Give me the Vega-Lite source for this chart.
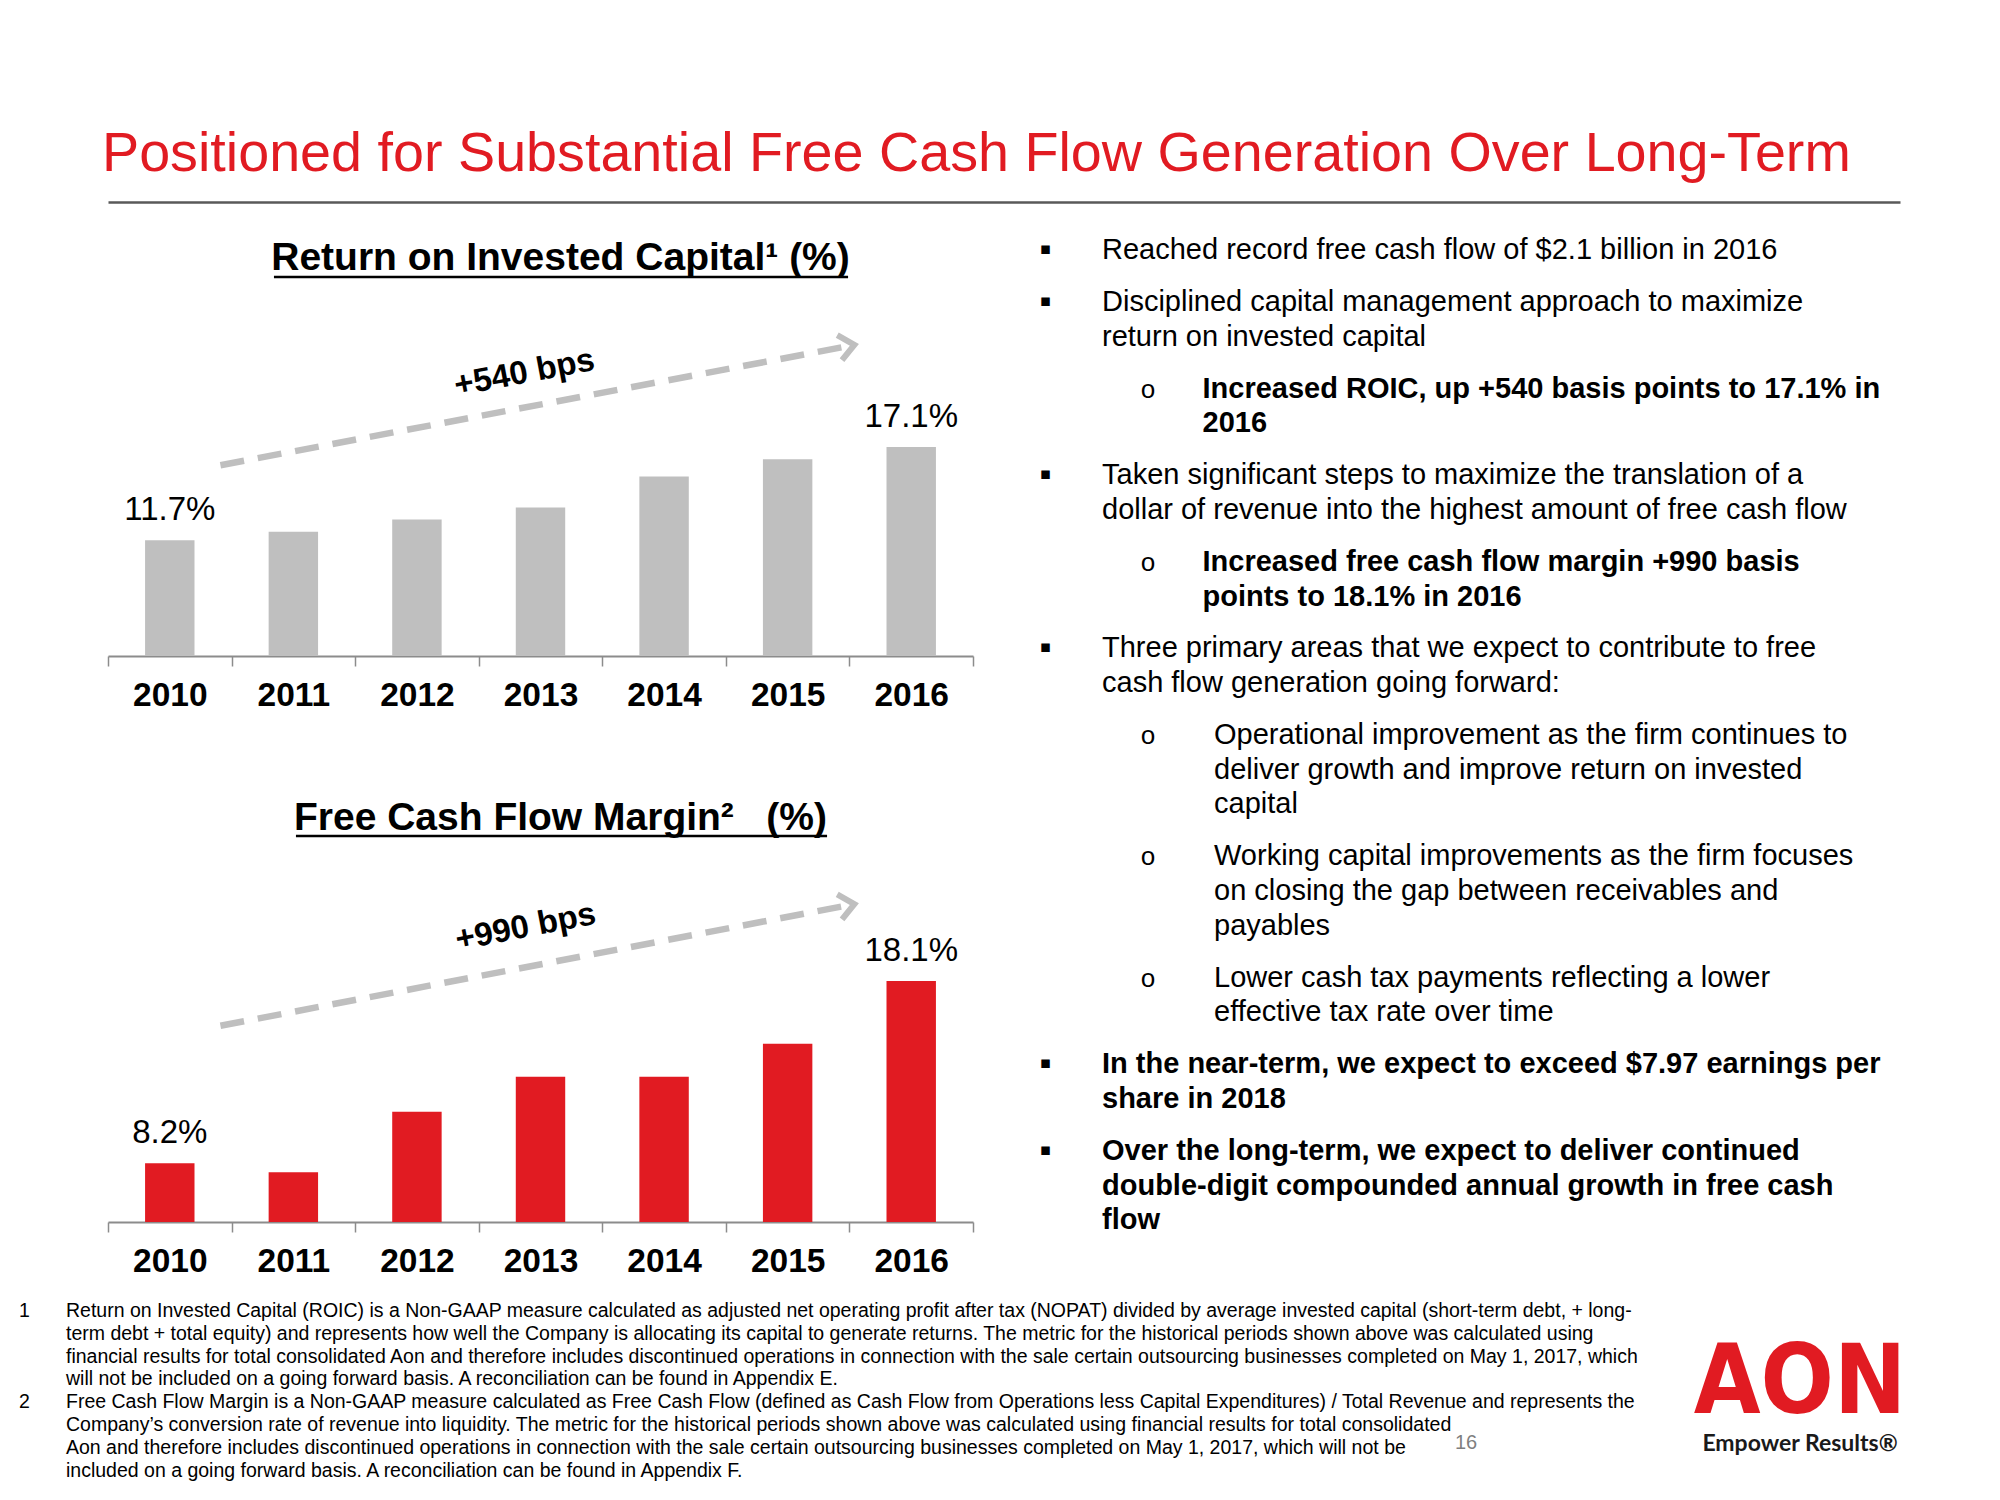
{
  "$schema": "https://vega.github.io/schema/vega-lite/v6.json",
  "background": "white",
  "padding": {"left": 19, "top": 126, "right": 0, "bottom": 0},
  "bounds": "flush",
  "spacing": 0,
  "config": {
    "font": "Liberation Sans",
    "view": {"stroke": null},
    "text": {"font": "Liberation Sans, DejaVu Sans"},
    "title": {"font": "Liberation Sans"},
    "axis": {"labelFont": "Liberation Sans"}
  },
  "datasets": {
    "metrics": [
      {"year": "2010", "roic": 11.7, "fcf": 8.2},
      {"year": "2011", "roic": 12.2, "fcf": 7.7},
      {"year": "2012", "roic": 12.9, "fcf": 11.0},
      {"year": "2013", "roic": 13.6, "fcf": 12.9},
      {"year": "2014", "roic": 15.4, "fcf": 12.9},
      {"year": "2015", "roic": 16.4, "fcf": 14.7},
      {"year": "2016", "roic": 17.1, "fcf": 18.1}
    ],
    "roicArrow": [
      {"pos": 2010.41, "val": 16.05, "pt": "start"},
      {"pos": 2015.54, "val": 23.02, "pt": "end"}
    ],
    "roicNote": [{"pos": 2012.87, "val": 21.4, "note": "+540 bps"}],
    "fcfArrow": [
      {"pos": 2010.41, "val": 15.67, "pt": "start"},
      {"pos": 2015.54, "val": 22.29, "pt": "end"}
    ],
    "fcfNote": [{"pos": 2012.88, "val": 21.04, "note": "+990 bps"}],
    "bullets": [
      {"para": 0, "ln": 0, "level": 1, "hl": false, "text": "Reached record free cash flow of $2.1 billion in 2016"},
      {"para": 1, "ln": 1, "level": 1, "hl": false, "text": "Disciplined capital management approach to maximize"},
      {"para": 1, "ln": 2, "level": 1, "hl": false, "text": "return on invested capital"},
      {"para": 2, "ln": 3, "level": 2, "hl": true, "text": "Increased ROIC, up +540 basis points to 17.1% in"},
      {"para": 2, "ln": 4, "level": 2, "hl": true, "text": "2016"},
      {"para": 3, "ln": 5, "level": 1, "hl": false, "text": "Taken significant steps to maximize the translation of a"},
      {"para": 3, "ln": 6, "level": 1, "hl": false, "text": "dollar of revenue into the highest amount of free cash flow"},
      {"para": 4, "ln": 7, "level": 2, "hl": true, "text": "Increased free cash flow margin +990 basis"},
      {"para": 4, "ln": 8, "level": 2, "hl": true, "text": "points to 18.1% in 2016"},
      {"para": 5, "ln": 9, "level": 1, "hl": false, "text": "Three primary areas that we expect to contribute to free"},
      {"para": 5, "ln": 10, "level": 1, "hl": false, "text": "cash flow generation going forward:"},
      {"para": 6, "ln": 11, "level": 2, "hl": false, "text": "Operational improvement as the firm continues to"},
      {"para": 6, "ln": 12, "level": 2, "hl": false, "text": "deliver growth and improve return on invested"},
      {"para": 6, "ln": 13, "level": 2, "hl": false, "text": "capital"},
      {"para": 7, "ln": 14, "level": 2, "hl": false, "text": "Working capital improvements as the firm focuses"},
      {"para": 7, "ln": 15, "level": 2, "hl": false, "text": "on closing the gap between receivables and"},
      {"para": 7, "ln": 16, "level": 2, "hl": false, "text": "payables"},
      {"para": 8, "ln": 17, "level": 2, "hl": false, "text": "Lower cash tax payments reflecting a lower"},
      {"para": 8, "ln": 18, "level": 2, "hl": false, "text": "effective tax rate over time"},
      {"para": 9, "ln": 19, "level": 1, "hl": true, "text": "In the near-term, we expect to exceed $7.97 earnings per"},
      {"para": 9, "ln": 20, "level": 1, "hl": true, "text": "share in 2018"},
      {"para": 10, "ln": 21, "level": 1, "hl": true, "text": "Over the long-term, we expect to deliver continued"},
      {"para": 10, "ln": 22, "level": 1, "hl": true, "text": "double-digit compounded annual growth in free cash"},
      {"para": 10, "ln": 23, "level": 1, "hl": true, "text": "flow"}
    ],
    "footnotes": [
      {"note": 1, "ln": 0, "text": "Return on Invested Capital (ROIC) is a Non-GAAP measure calculated as adjusted net operating profit after tax (NOPAT) divided by average invested capital (short-term debt, + long-"},
      {"note": 1, "ln": 1, "text": "term debt + total equity) and represents how well the Company is allocating its capital to generate returns. The metric for the historical periods shown above was calculated using"},
      {"note": 1, "ln": 2, "text": "financial results for total consolidated Aon and therefore includes discontinued operations in connection with the sale certain outsourcing businesses completed on May 1, 2017, which"},
      {"note": 1, "ln": 3, "text": "will not be included on a going forward basis.  A reconciliation can be found in Appendix E."},
      {"note": 2, "ln": 4, "text": "Free Cash Flow Margin is a Non-GAAP measure calculated as Free Cash Flow (defined as Cash Flow from Operations less Capital Expenditures) / Total Revenue and represents the"},
      {"note": 2, "ln": 5, "text": "Company’s conversion rate of revenue into liquidity. The metric for the historical periods shown above was calculated using financial results for total consolidated"},
      {"note": 2, "ln": 6, "text": "Aon and therefore includes discontinued operations in connection with the sale certain outsourcing businesses completed on May 1, 2017, which will not be"},
      {"note": 2, "ln": 7, "text": "included on a going forward basis. A reconciliation can be found in Appendix F."}
    ]
  },
  "vconcat": [
    {
      "title": {"text": "Positioned for Substantial Free Cash Flow Generation Over Long-Term", "anchor": "start", "frame": "group", "fontSize": 55.7, "fontWeight": "normal", "color": "#E11B22", "baseline": "alphabetic", "offset": -25, "dx": -6},
      "width": 1792,
      "height": 126,
      "layer": [
        {
          "data": {"values": [{"v": 0}, {"v": 1}]},
          "mark": {"type": "point", "opacity": 0},
          "encoding": {
            "x": {"field": "v", "type": "quantitative", "scale": {"domain": [0, 1], "nice": false},
                  "axis": {"orient": "top", "domain": true, "domainColor": "#595959", "domainWidth": 2.5, "ticks": false, "labels": false, "grid": false, "title": null}}
          }
        },
        {
          "data": {"name": "bullets"},
          "transform": [{"calculate": "datum.ln + 0.5 * datum.para", "as": "pos"}],
          "layer": [
            {
              "transform": [
                {"joinaggregate": [{"op": "min", "field": "ln", "as": "firstLn"}], "groupby": ["para"]},
                {"filter": "datum.ln == datum.firstLn && datum.level == 1"}
              ],
              "mark": {"type": "text", "fontSize": 17, "align": "center", "baseline": "alphabetic", "color": "#000000", "font": "DejaVu Sans", "dy": -5, "text": "▪"},
              "encoding": {
                "x": {"field": "level", "type": "quantitative", "scale": {"domain": [1, 2], "range": [937.5, 1040], "nice": false, "zero": false}, "axis": null},
                "y": {"field": "pos", "type": "quantitative", "scale": {"domain": [0, 28], "range": [57, 1027.2], "nice": false, "zero": false}, "axis": null}
              }
            },
            {
              "transform": [
                {"joinaggregate": [{"op": "min", "field": "ln", "as": "firstLn"}], "groupby": ["para"]},
                {"filter": "datum.ln == datum.firstLn && datum.level == 2"}
              ],
              "mark": {"type": "text", "fontSize": 26, "align": "center", "baseline": "alphabetic", "color": "#000000", "font": "Liberation Mono", "text": "o"},
              "encoding": {
                "x": {"field": "level", "type": "quantitative", "scale": {"domain": [1, 2], "range": [937.5, 1040], "nice": false, "zero": false}, "axis": null},
                "y": {"field": "pos", "type": "quantitative", "axis": null}
              }
            },
            {
              "transform": [{"filter": "!datum.hl"}],
              "mark": {"type": "text", "fontSize": 29, "align": "left", "baseline": "alphabetic", "color": "#000000"},
              "encoding": {
                "x": {"field": "level", "type": "quantitative", "scale": {"domain": [1, 2], "range": [994, 1106], "nice": false, "zero": false}, "axis": null},
                "y": {"field": "pos", "type": "quantitative", "axis": null},
                "text": {"field": "text"}
              }
            },
            {
              "transform": [{"filter": "datum.hl"}],
              "mark": {"type": "text", "fontSize": 29, "fontWeight": "bold", "align": "left", "baseline": "alphabetic", "color": "#000000"},
              "encoding": {
                "x": {"field": "level", "type": "quantitative", "scale": {"domain": [1, 2], "range": [994, 1094.5], "nice": false, "zero": false}, "axis": null},
                "y": {"field": "pos", "type": "quantitative", "axis": null},
                "text": {"field": "text"}
              }
            }
          ],
          "resolve": {"scale": {"x": "independent"}}
        }
      ],
      "resolve": {"scale": {"x": "independent", "y": "independent"}}
    },
    {
      "width": 865,
      "height": 328,
      "title": {"text": "Return on Invested Capital¹ (%)", "fontSize": 39, "fontWeight": "bold", "color": "#000000", "anchor": "middle", "frame": "group", "dx": 20, "baseline": "alphabetic", "offset": -33},
      "layer": [
        {
          "data": {"name": "metrics"},
          "layer": [
            {
              "mark": {"type": "bar", "width": {"band": 0.4}, "color": "#BFBFBF"},
              "encoding": {
                "x": {"field": "year", "type": "ordinal", "scale": {"paddingInner": 0, "paddingOuter": 0},
                      "axis": {"title": null, "labelFontSize": 33.5, "labelFontWeight": "bold", "labelColor": "#000000", "labelAngle": 0, "labelPadding": 13, "tickSize": 10, "tickColor": "#8C8C8C", "tickWidth": 1.5, "domainColor": "#8C8C8C", "domainWidth": 2, "tickBand": "extent", "grid": false}},
                "y": {"field": "roic", "type": "quantitative", "scale": {"domain": [5, 24], "zero": false, "nice": false, "clamp": true}, "axis": null}
              }
            },
            {
              "transform": [
                {"filter": "datum.year == '2010' || datum.year == '2016'"},
                {"calculate": "format(datum.roic, '.1f') + '%'", "as": "lbl"}
              ],
              "mark": {"type": "text", "fontSize": 33, "dy": -20, "baseline": "alphabetic", "color": "#000000"},
              "encoding": {
                "x": {"field": "year", "type": "ordinal"},
                "y": {"field": "roic", "type": "quantitative", "axis": null},
                "text": {"field": "lbl"}
              }
            }
          ]
        },
        {
          "layer": [
            {
              "data": {"name": "roicArrow"},
              "mark": {"type": "line", "color": "#BFBFBF", "strokeWidth": 6.5, "strokeDash": [24, 14], "strokeCap": "butt"},
              "encoding": {
                "x": {"field": "pos", "type": "quantitative", "scale": {"domain": [2009.5, 2016.5], "nice": false, "zero": false}, "axis": null},
                "y": {"field": "val", "type": "quantitative", "scale": {"domain": [5, 24], "zero": false, "nice": false}, "axis": null}
              }
            },
            {
              "data": {"name": "roicArrow"},
              "transform": [{"filter": "datum.pt == 'end'"}],
              "mark": {"type": "point", "shape": "M-1,-0.85L0,0L-1,0.85", "filled": false, "stroke": "#BFBFBF", "strokeWidth": 6, "size": 900, "angle": -10.7, "opacity": 1},
              "encoding": {
                "x": {"field": "pos", "type": "quantitative", "axis": null},
                "y": {"field": "val", "type": "quantitative", "axis": null}
              }
            },
            {
              "data": {"name": "roicNote"},
              "mark": {"type": "text", "fontSize": 33, "fontWeight": "bold", "angle": -10.7, "align": "center", "baseline": "middle", "color": "#000000"},
              "encoding": {
                "x": {"field": "pos", "type": "quantitative", "axis": null},
                "y": {"field": "val", "type": "quantitative", "axis": null},
                "text": {"field": "note"}
              }
            },
            {
              "data": {"values": [{"underline": "title"}]},
              "mark": {"type": "rule", "color": "#000000", "strokeWidth": 2.5},
              "encoding": {
                "x": {"datum": 2010.843, "type": "quantitative", "axis": null},
                "x2": {"datum": 2015.489},
                "y": {"datum": 26.955, "type": "quantitative", "axis": null}
              }
            }
          ]
        }
      ],
      "resolve": {"scale": {"x": "independent", "y": "independent"}}
    },
    {
      "width": 1,
      "height": 235,
      "data": {"values": [{"gap": 1}]},
      "mark": {"type": "point", "opacity": 0},
      "encoding": {}
    },
    {
      "width": 865,
      "height": 331,
      "title": {"text": "Free Cash Flow Margin²\u00a0\u00a0\u00a0(%)", "fontSize": 39, "fontWeight": "bold", "color": "#000000", "anchor": "middle", "frame": "group", "dx": 20, "baseline": "alphabetic", "offset": -34},
      "layer": [
        {
          "data": {"name": "metrics"},
          "layer": [
            {
              "mark": {"type": "bar", "width": {"band": 0.4}, "color": "#E11B22"},
              "encoding": {
                "x": {"field": "year", "type": "ordinal", "scale": {"paddingInner": 0, "paddingOuter": 0},
                      "axis": {"title": null, "labelFontSize": 33.5, "labelFontWeight": "bold", "labelColor": "#000000", "labelAngle": 0, "labelPadding": 13, "tickSize": 10, "tickColor": "#8C8C8C", "tickWidth": 1.5, "domainColor": "#8C8C8C", "domainWidth": 2, "tickBand": "extent", "grid": false}},
                "y": {"field": "fcf", "type": "quantitative", "scale": {"domain": [5, 23], "zero": false, "nice": false, "clamp": true}, "axis": null}
              }
            },
            {
              "transform": [
                {"filter": "datum.year == '2010' || datum.year == '2016'"},
                {"calculate": "format(datum.fcf, '.1f') + '%'", "as": "lbl"}
              ],
              "mark": {"type": "text", "fontSize": 33, "dy": -20, "baseline": "alphabetic", "color": "#000000"},
              "encoding": {
                "x": {"field": "year", "type": "ordinal"},
                "y": {"field": "fcf", "type": "quantitative", "axis": null},
                "text": {"field": "lbl"}
              }
            }
          ]
        },
        {
          "layer": [
            {
              "data": {"name": "fcfArrow"},
              "mark": {"type": "line", "color": "#BFBFBF", "strokeWidth": 6.5, "strokeDash": [24, 14], "strokeCap": "butt"},
              "encoding": {
                "x": {"field": "pos", "type": "quantitative", "scale": {"domain": [2009.5, 2016.5], "nice": false, "zero": false}, "axis": null},
                "y": {"field": "val", "type": "quantitative", "scale": {"domain": [5, 23], "zero": false, "nice": false}, "axis": null}
              }
            },
            {
              "data": {"name": "fcfArrow"},
              "transform": [{"filter": "datum.pt == 'end'"}],
              "mark": {"type": "point", "shape": "M-1,-0.85L0,0L-1,0.85", "filled": false, "stroke": "#BFBFBF", "strokeWidth": 6, "size": 900, "angle": -10.9, "opacity": 1},
              "encoding": {
                "x": {"field": "pos", "type": "quantitative", "axis": null},
                "y": {"field": "val", "type": "quantitative", "axis": null}
              }
            },
            {
              "data": {"name": "fcfNote"},
              "mark": {"type": "text", "fontSize": 33, "fontWeight": "bold", "angle": -10.9, "align": "center", "baseline": "middle", "color": "#000000"},
              "encoding": {
                "x": {"field": "pos", "type": "quantitative", "axis": null},
                "y": {"field": "val", "type": "quantitative", "axis": null},
                "text": {"field": "note"}
              }
            },
            {
              "data": {"values": [{"underline": "title"}]},
              "mark": {"type": "rule", "color": "#000000", "strokeWidth": 2.5},
              "encoding": {
                "x": {"datum": 2011.021, "type": "quantitative", "axis": null},
                "x2": {"datum": 2015.319},
                "y": {"datum": 25.99, "type": "quantitative", "axis": null}
              }
            }
          ]
        }
      ],
      "resolve": {"scale": {"x": "independent", "y": "independent"}}
    },
    {
      "width": 1540,
      "height": 260,
      "layer": [
        {
          "data": {"name": "footnotes"},
          "layer": [
            {
              "transform": [
                {"joinaggregate": [{"op": "min", "field": "ln", "as": "firstLn"}], "groupby": ["note"]},
                {"filter": "datum.ln == datum.firstLn"}
              ],
              "mark": {"type": "text", "fontSize": 19.5, "align": "left", "baseline": "middle", "color": "#000000"},
              "encoding": {
                "x": {"datum": 0, "type": "quantitative", "scale": {"domain": [0, 1, 2, 3], "range": [-89, -42, 1347, 1692], "nice": false, "zero": false}, "axis": null},
                "y": {"field": "ln", "type": "ordinal", "scale": {"type": "point", "domain": [0, 1, 2, 3, 4, 5, 6, 7], "range": [89, 248.6], "padding": 0}, "axis": null},
                "text": {"field": "note"}
              }
            },
            {
              "mark": {"type": "text", "fontSize": 19.5, "align": "left", "baseline": "middle", "color": "#000000"},
              "encoding": {
                "x": {"datum": 1, "type": "quantitative", "axis": null},
                "y": {"field": "ln", "type": "ordinal", "axis": null},
                "text": {"field": "text"}
              }
            },
            {
              "data": {"values": [{"page": "16"}]},
              "mark": {"type": "text", "fontSize": 20, "align": "left", "baseline": "middle", "color": "#7F7F7F", "dy": -5},
              "encoding": {
                "x": {"datum": 2, "type": "quantitative", "axis": null},
                "y": {"datum": 6, "type": "ordinal", "axis": null},
                "text": {"field": "page"}
              }
            }
          ]
        },
        {
          "data": {"values": [{"part": "logo", "t": "AON"}, {"part": "tagline", "t": "Empower Results®"}]},
          "encoding": {
            "x": {"datum": 3, "type": "quantitative", "axis": null},
            "y": {"field": "part", "type": "nominal", "scale": {"type": "point", "domain": ["logo", "tagline"], "range": [191, 229], "padding": 0}, "axis": null},
            "text": {"field": "t"}
          },
          "layer": [
            {
              "transform": [{"filter": "datum.part == 'logo'"}],
              "mark": {"type": "text", "font": "DejaVu Sans Condensed, Roboto", "fontWeight": "bold", "fontSize": 96, "color": "#E11B22", "baseline": "alphabetic", "align": "center"}
            },
            {
              "transform": [{"filter": "datum.part == 'tagline'"}],
              "mark": {"type": "text", "font": "Lato", "fontWeight": "bold", "fontSize": 23, "color": "#1A1A1A", "baseline": "alphabetic", "align": "center"}
            }
          ]
        }
      ],
      "resolve": {"scale": {"y": "independent"}}
    }
  ]
}
